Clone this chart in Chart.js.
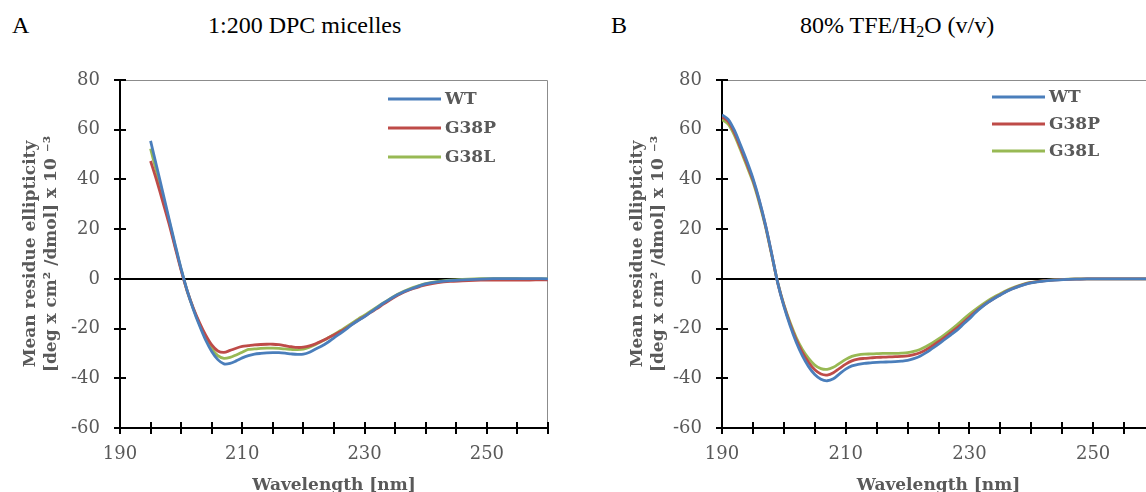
<!DOCTYPE html>
<html>
<head>
<meta charset="utf-8">
<script src="https://cdn.jsdelivr.net/npm/chart.js@4.4.0/dist/chart.umd.min.js"></script>
<style>
  html, body { margin: 0; padding: 0; background: #fff; overflow: hidden; width: 1146px; height: 492px; }
  .panel { position: absolute; top: 0; }
  .lbl { position: absolute; font-family: "Liberation Serif", serif; font-size: 24px; line-height: 24px; color: #000; white-space: nowrap; }
  sub { font-size: 16px; vertical-align: -4px; line-height: 0; }
</style>
</head>
<body>
<div class="lbl" style="left:12px; top:13px;">A</div>
<div class="lbl" style="left:208px; top:13px;">1:200 DPC micelles</div>
<div class="lbl" style="left:611px; top:13px;">B</div>
<div class="lbl" style="left:800px; top:13px;">80% TFE/H<sub>2</sub>O (v/v)</div>

<div class="panel" style="left:0px;"><canvas id="chartA" width="573" height="496"></canvas></div>
<div class="panel" style="left:573px;"><canvas id="chartB" width="600" height="496"></canvas></div>

<script>
// panel A : 1:200 DPC micelles
const wavelengthsA = [195,196,197,198,199,200,201,202,203,204,205,206,207,208,209,210,211,212,213,214,215,216,217,218,219,220,
  221,222,223,224,225,226,227,228,229,230,231,232,233,234,235,236,237,238,239,240,242,244,246,248,250,252,254,256,258,260];
const wtA = [55.5,45.2,34.8,24.4,14.0,4.0,-4.8,-12.3,-18.8,-24.6,-29.2,-32.5,-34.2,-34.0,-33.0,-31.8,-30.9,-30.3,-30.0,-29.8,-29.7,-29.7,-29.9,-30.2,-30.4,-30.3,
  -29.5,-28.2,-27.0,-25.5,-23.7,-22.0,-20.2,-18.3,-16.7,-15.2,-13.4,-11.7,-9.9,-8.4,-6.9,-5.7,-4.6,-3.7,-2.8,-2.0,-1.2,-0.7,-0.4,-0.2,0,0.1,0.1,0.1,0.1,0];
const g38pA = [47.4,39.5,31,22.3,12.8,3.4,-5.0,-11.8,-17.6,-22.6,-26.6,-29.0,-29.6,-28.8,-27.9,-27.2,-26.9,-26.6,-26.4,-26.3,-26.3,-26.5,-26.9,-27.3,-27.6,-27.5,
  -27.0,-26.1,-25.0,-23.8,-22.6,-21.3,-19.8,-18.2,-16.6,-15.1,-13.5,-12,-10.3,-8.7,-7.2,-5.9,-4.8,-3.9,-3.1,-2.4,-1.5,-1.0,-0.8,-0.6,-0.5,-0.5,-0.5,-0.5,-0.4,-0.4];
const g38lA = [52.4,42.8,33.3,23.5,13.5,3.8,-5.0,-12.0,-18.2,-23.7,-28.0,-30.9,-32.0,-31.6,-30.6,-29.5,-28.4,-28.2,-28.0,-27.9,-27.9,-28.0,-28.2,-28.4,-28.5,-28.3,
  -27.5,-26.4,-25.1,-23.8,-22.4,-20.9,-19.3,-17.7,-16.1,-14.6,-13.0,-11.4,-9.8,-8.3,-6.8,-5.5,-4.4,-3.4,-2.6,-1.9,-1.0,-0.5,-0.2,0,0.1,0.1,0.1,0,0,0];

// panel B : 80% TFE/H2O
const wavelengthsB = [190,191,192,193,194,195,196,197,198,199,200,201,202,203,204,205,206,207,208,209,210,211,212,213,214,215,216,217,218,219,220,
  221,222,223,224,225,226,227,228,229,230,231,232,233,234,235,236,237,238,239,240,242,244,246,248,250,252,254,256,258,260];
const wtB = [66.0,64.2,59.8,53.8,47.5,40.5,32.0,22.0,10.5,-1.5,-11.0,-18.8,-25.5,-31.0,-35.3,-38.5,-40.4,-41.0,-40.2,-38.2,-36.3,-35,-34.4,-34.0,-33.8,-33.6,-33.5,-33.4,-33.3,-33.1,-32.8,
  -32.1,-31.1,-29.7,-28.0,-26.3,-24.4,-22.5,-20.6,-18.3,-16.0,-13.5,-11.4,-9.5,-7.9,-6.5,-5.1,-4.0,-3.0,-2.2,-1.6,-0.9,-0.5,-0.2,-0.1,0,0,0,0,0,0];
const g38pB = [65.2,63.3,58.8,52.8,46.5,39.8,31.6,21.8,10.3,-1.5,-10.6,-18.1,-24.5,-29.6,-33.6,-36.6,-38.3,-38.7,-37.8,-36.0,-34.3,-33.0,-32.3,-32.0,-31.8,-31.6,-31.5,-31.4,-31.3,-31.2,-31.0,
  -30.5,-29.7,-28.5,-27.0,-25.3,-23.5,-21.6,-19.7,-17.6,-15.4,-13.2,-11.2,-9.4,-7.8,-6.4,-5.0,-3.9,-2.9,-2.1,-1.5,-0.8,-0.4,-0.2,-0.1,0,0,0,0,0,0];
const g38lB = [64.1,62.2,57.8,51.8,45.5,39.0,30.8,21.3,10.0,-1.4,-10.3,-17.5,-23.6,-28.4,-32.0,-34.7,-36.1,-36.4,-35.6,-34.0,-32.4,-31.2,-30.6,-30.3,-30.2,-30.1,-30.0,-30.0,-30.0,-29.9,-29.7,
  -29.2,-28.4,-27.2,-25.8,-24.2,-22.4,-20.5,-18.5,-16.3,-14.2,-12.3,-10.5,-8.8,-7.3,-6.0,-4.7,-3.6,-2.7,-1.9,-1.4,-0.7,-0.3,-0.1,0,0,0,0,0,0,0];

const seriesNames = ['WT', 'G38P', 'G38L'];
const seriesColors = ['#4A7EBB', '#BE4B48', '#98B954'];
const yTicks = { min: -60, max: 80, step: 20 };
const xTicks = { min: 190, max: 260, step: 5, labelEvery: 20 };

const grey = '#595959';
const serif = '"DejaVu Serif", serif';

// frame, crossing tick marks and legend
const cdPlugin = {
  id: 'cdDecor',
  beforeDatasetsDraw(chart) {
    const a = chart.chartArea, ctx = chart.ctx;
    ctx.save();
    ctx.strokeStyle = '#8c8c8c';
    ctx.lineWidth = 1;
    ctx.beginPath();
    ctx.moveTo(a.left, a.top + 0.5);
    ctx.lineTo(a.right - 0.5, a.top + 0.5);
    ctx.lineTo(a.right - 0.5, a.bottom);
    ctx.stroke();
    ctx.restore();
  },
  afterDraw(chart) {
    const ctx = chart.ctx, a = chart.chartArea;
    const xs = chart.scales.x, ys = chart.scales.y;
    ctx.save();
    ctx.strokeStyle = '#000';
    ctx.lineWidth = 2;
    ctx.beginPath();
    xs.ticks.forEach(t => {
      const px = Math.round(xs.getPixelForValue(t.value));
      ctx.moveTo(px, a.bottom - 6);
      ctx.lineTo(px, a.bottom + 6);
    });
    ys.ticks.forEach(t => {
      const py = Math.round(ys.getPixelForValue(t.value));
      ctx.moveTo(a.left - 6, py);
      ctx.lineTo(a.left + 6, py);
    });
    ctx.stroke();

    const o = chart.options.plugins.cdDecor;
    ctx.font = 'bold 17px ' + serif;
    ctx.textBaseline = 'middle';
    ctx.textAlign = 'left';
    chart.data.datasets.forEach((ds, i) => {
      const y = a.top + o.top + i * o.gap;
      const x0 = a.right - o.fromRight;
      ctx.strokeStyle = ds.borderColor;
      ctx.lineWidth = 3;
      ctx.beginPath();
      ctx.moveTo(x0, y);
      ctx.lineTo(x0 + 53, y);
      ctx.stroke();
      ctx.fillStyle = grey;
      ctx.fillText(ds.label, x0 + 57, y + 1);
    });
    ctx.restore();
  }
};

function makeChart(id, wl, series, pad, legendPos) {
  const datasets = series.map((vals, i) => ({
    label: seriesNames[i],
    data: wl.map((w, k) => ({ x: w, y: vals[k] })),
    borderColor: seriesColors[i],
    borderWidth: 2.8,
    pointRadius: 0,
    tension: 0.3,
    fill: false
  }));

  return new Chart(document.getElementById(id), {
    type: 'line',
    data: { datasets: datasets },
    plugins: [cdPlugin],
    options: {
      responsive: false,
      animation: false,
      devicePixelRatio: 1,
      layout: { padding: { top: 80, right: pad.right, left: pad.left, bottom: 0 } },
      plugins: {
        legend: { display: false },
        tooltip: { enabled: false },
        cdDecor: legendPos
      },
      scales: {
        x: {
          type: 'linear',
          min: xTicks.min,
          max: xTicks.max,
          afterFit(scale) { scale.height = 68; },
          border: { display: true, color: '#000', width: 2 },
          grid: { display: false, drawTicks: false },
          ticks: {
            stepSize: xTicks.step,
            autoSkip: false,
            maxRotation: 0,
            padding: 16,
            color: grey,
            font: { family: serif, size: 18 },
            callback: v => ((v - xTicks.min) % xTicks.labelEvery === 0 ? v : '')
          },
          title: {
            display: true,
            text: 'Wavelength [nm]',
            color: grey,
            font: { family: serif, size: 17, weight: 'bold' },
            padding: { top: 0, bottom: 0 }
          }
        },
        y: {
          min: yTicks.min,
          max: yTicks.max,
          afterFit(scale) { scale.width = pad.axis - pad.left; },
          border: { display: true, color: '#000', width: 2 },
          grid: {
            drawTicks: false,
            color: c => (c.tick && c.tick.value === 0 ? '#000' : 'rgba(0,0,0,0)'),
            lineWidth: 2
          },
          ticks: {
            stepSize: yTicks.step,
            padding: 20,
            color: grey,
            font: { family: serif, size: 18 }
          },
          title: {
            display: true,
            text: ['Mean residue ellipticity', '[deg x cm\u00B2 /dmol] x 10 \u207B\u00B3'],
            color: grey,
            font: { family: serif, size: 17, weight: 'bold', lineHeight: 1.25 },
            padding: 0
          }
        }
      }
    }
  });
}

makeChart('chartA', wavelengthsA, [wtA, g38pA, g38lA], { left: 20, right: 25, axis: 120 }, { top: 19, gap: 29, fromRight: 160 });
makeChart('chartB', wavelengthsB, [wtB, g38pB, g38lB], { left: 54, right: 18, axis: 149 }, { top: 17, gap: 27, fromRight: 163 });
</script>
</body>
</html>
